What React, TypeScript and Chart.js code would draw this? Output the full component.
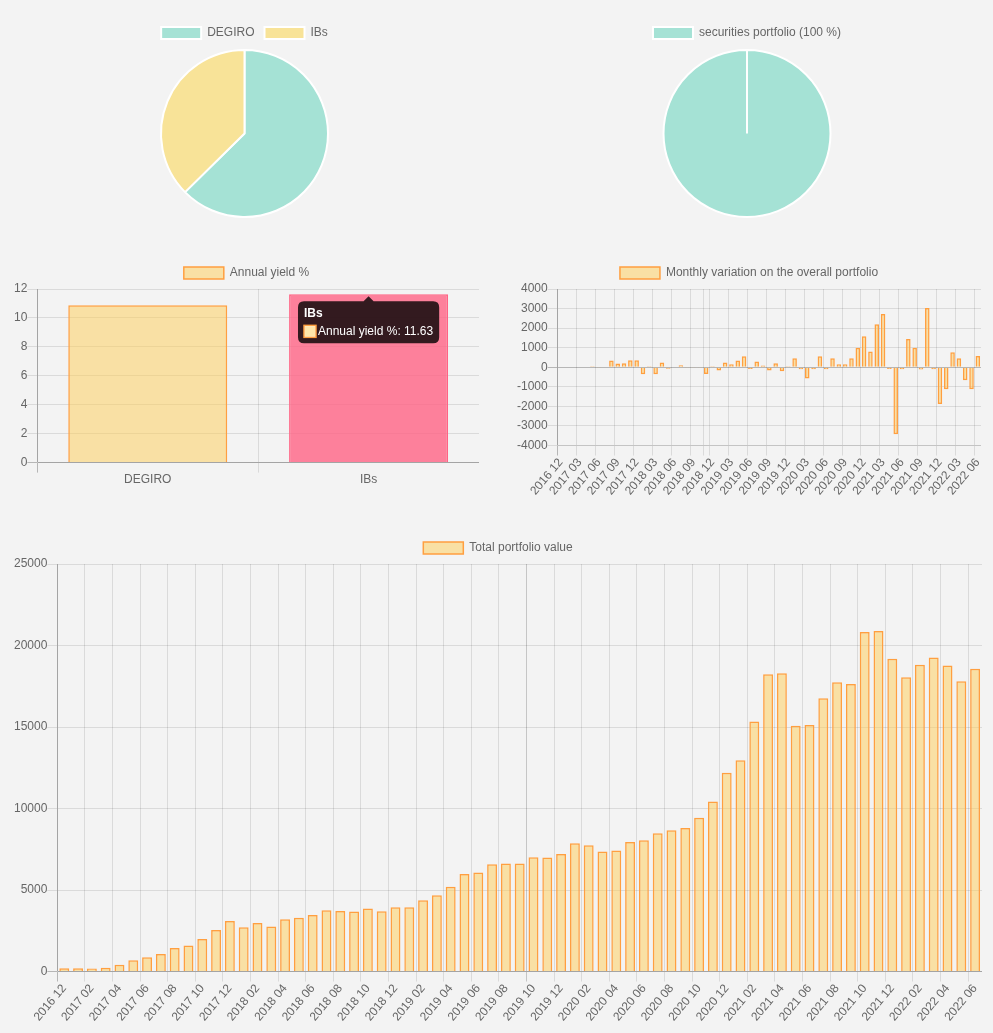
import React, { useEffect, useRef } from 'react';
import { Chart, registerables } from 'chart.js';

Chart.register(...registerables);

// ---------- data ----------
const brokerLabels = ['DEGIRO', 'IBs'];
const brokerValues = [11630, 6945];

const allocationLabels = ['securities portfolio (100 %)'];
const allocationValues = [100];

const yieldLabels = ['DEGIRO', 'IBs'];
const yieldValues = [10.87, 11.63];

const monthLabels = [
  '2016 12',
  '2017 01', '2017 02', '2017 03', '2017 04', '2017 05', '2017 06', '2017 07', '2017 08', '2017 09', '2017 10', '2017 11', '2017 12',
  '2018 01', '2018 02', '2018 03', '2018 04', '2018 05', '2018 06', '2018 07', '2018 08', '2018 09', '2018 10', '2018 11', '2018 12',
  '2019 01', '2019 02', '2019 03', '2019 04', '2019 05', '2019 06', '2019 07', '2019 08', '2019 09', '2019 10', '2019 11', '2019 12',
  '2020 01', '2020 02', '2020 03', '2020 04', '2020 05', '2020 06', '2020 07', '2020 08', '2020 09', '2020 10', '2020 11', '2020 12',
  '2021 01', '2021 02', '2021 03', '2021 04', '2021 05', '2021 06', '2021 07', '2021 08', '2021 09', '2021 10', '2021 11', '2021 12',
  '2022 01', '2022 02', '2022 03', '2022 04', '2022 05', '2022 06',
];

const monthlyVariation = [
  0,
  0, 0, 30, 25, 50, -10, 30, 350, 190, 200, 360, 360,
  -360, 50, -360, 240, -70, -20, 100, -10, -10, -10, -340, 50,
  -160, 240, 150, 340, 560, -90, 300, 90, -160, 200, -210, 50,
  460, -100, -580, -100, 560, -100, 460, 150, 150, 460, 1000, 1590,
  800, 2200, 2720, -90, -3420, -100, 1440, 1000, -120, 3030, -100, -1880,
  -1130, 770, 460, -670, -1130, 580,
];

const totalValue = [
  195,
  195, 185, 225, 410, 695, 875, 1080, 1450, 1590, 2000, 2550, 3100,
  2710, 2980, 2755, 3200, 3300, 3470, 3755, 3715, 3680, 3860, 3700, 3940,
  3940, 4370, 4675, 5200, 5975, 6080, 6585, 6625, 6625, 7010, 6990, 7215,
  7865, 7745, 7360, 7420, 7945, 8050, 8475, 8660, 8800, 9430, 10425, 12195,
  12965, 15345, 18230, 18295, 15080, 15120, 16770, 17745, 17640, 20835, 20895, 19185,
  18050, 18820, 19270, 18780, 17805, 18575,
];

// ---------- styles ----------
const FONT = "'Liberation Sans', Arial, sans-serif";
const TEAL = '#a5e2d5';
const YELLOW = '#f8e398';
const BAR_FILL = 'rgba(255, 206, 86, 0.5)';
const BAR_BORDER = 'rgba(255, 159, 64, 1)';
const HOVER_FILL = 'rgba(255, 99, 132, 0.8)';
const HOVER_BORDER = 'rgba(255, 99, 132, 1)';
const GRID = 'rgba(0,0,0,0.1)';
const ZERO = 'rgba(0,0,0,0.25)';
const DOUBLE = 'rgba(0,0,0,0.19)';
const NONE = 'rgba(0,0,0,0)';

Chart.defaults.font.family = FONT;
Chart.defaults.font.size = 12;
Chart.defaults.color = '#666';

function xGridColor(step: number, extraIndex: number, doubled: boolean, endVisible: boolean) {
  return (ctx: any) => {
    if (!ctx.tick) return endVisible ? GRID : NONE;
    const i = ctx.index;
    if (i === 0) return ZERO;
    if (i === extraIndex) return doubled ? DOUBLE : GRID;
    return i % step === 0 ? GRID : NONE;
  };
}

function yGridColor(ctx: any) {
  if (ctx.tick && ctx.tick.value === 0) return ZERO;
  return GRID;
}

const plainNumber = (v: any) => String(v);

const legendOpts = { position: 'top' as const, labels: { boxWidth: 40, padding: 10 } };

function monthScaleX(step: number, extraIndex: number, doubled: boolean) {
  return {
    grid: { color: xGridColor(step, extraIndex, doubled, false), tickLength: 10, offset: true },
    border: { color: GRID },
    afterFit: (scale: any) => {
      scale.paddingRight = 0;
    },
    ticks: {
      autoSkip: false,
      minRotation: 50,
      maxRotation: 50,
      padding: 0,
      callback: (_v: any, i: number) => (i % step === 0 ? monthLabels[i] : ''),
    },
  };
}

type Maker = (c: HTMLCanvasElement) => Chart;

function ChartBox({ left, top, width, height, make }: { left: number; top: number; width: number; height: number; make: Maker }) {
  const ref = useRef<HTMLCanvasElement>(null);
  useEffect(() => {
    const chart = make(ref.current!);
    return () => chart.destroy();
  }, []);
  return (
    <div style={{ position: 'absolute', left: left - 8, top: top - 8, width, height }}>
      <canvas ref={ref} width={width} height={height} style={{ width, height, display: 'block' }} />
    </div>
  );
}

const makeBrokerPie: Maker = (c) =>
  new Chart(c, {
    type: 'pie',
    data: {
      labels: brokerLabels,
      datasets: [{ data: brokerValues, backgroundColor: [TEAL, YELLOW], borderColor: '#fff', borderWidth: 2 }],
    },
    options: {
      responsive: false,
      animation: false,
      devicePixelRatio: 1,
      events: [],
      plugins: { legend: legendOpts, tooltip: { enabled: false } },
    },
  });

const makeAllocationPie: Maker = (c) =>
  new Chart(c, {
    type: 'pie',
    data: {
      labels: allocationLabels,
      datasets: [{ data: allocationValues, backgroundColor: [TEAL], borderColor: '#fff', borderWidth: 2 }],
    },
    options: {
      responsive: false,
      animation: false,
      devicePixelRatio: 1,
      events: [],
      plugins: { legend: legendOpts, tooltip: { enabled: false } },
    },
  });

const makeYield: Maker = (c) => {
  const chart = new Chart(c, {
    type: 'bar',
    data: {
      labels: yieldLabels,
      datasets: [
        {
          label: 'Annual yield %',
          data: yieldValues,
          backgroundColor: BAR_FILL,
          borderColor: BAR_BORDER,
          borderWidth: 1.5,
          hoverBackgroundColor: HOVER_FILL,
          hoverBorderColor: HOVER_BORDER,
        },
      ],
    },
    options: {
      responsive: false,
      animation: false,
      devicePixelRatio: 1,
      events: [],
      plugins: {
        legend: legendOpts,
        tooltip: {
          yAlign: 'top',
          xAlign: 'center',
          titleFont: { size: 12, weight: 'bold', lineHeight: 1 },
          bodyFont: { size: 12, lineHeight: 1 },
          padding: 6,
          caretSize: 5,
          caretPadding: 2,
          cornerRadius: 6,
          titleMarginBottom: 6,
          boxPadding: 0,
        },
      },
      scales: {
        x: {
          grid: { color: xGridColor(1, -1, false, true), tickLength: 10, offset: true },
          border: { color: GRID },
          ticks: { padding: 0 },
        },
        y: {
          min: 0,
          max: 12,
          grid: { color: yGridColor, tickLength: 10 },
          border: { color: GRID },
          ticks: { stepSize: 2, padding: 0, callback: plainNumber },
        },
      },
    },
  });
  const active = [{ datasetIndex: 0, index: 1 }];
  chart.setActiveElements(active);
  chart.tooltip!.setActiveElements(active, { x: 0, y: 0 });
  chart.update();
  return chart;
};

const makeMonthly: Maker = (c) =>
  new Chart(c, {
    type: 'bar',
    data: {
      labels: monthLabels,
      datasets: [
        {
          label: 'Monthly variation on the overall portfolio',
          data: monthlyVariation,
          backgroundColor: BAR_FILL,
          borderColor: BAR_BORDER,
          borderWidth: 1.5,
        },
      ],
    },
    options: {
      responsive: false,
      animation: false,
      devicePixelRatio: 1,
      events: [],
      plugins: { legend: legendOpts, tooltip: { enabled: false } },
      scales: {
        x: monthScaleX(3, 23, false) as any,
        y: {
          min: -4000,
          max: 4000,
          grid: { color: yGridColor, tickLength: 10 },
          border: { color: GRID },
          ticks: { stepSize: 1000, padding: 0, callback: plainNumber },
        },
      },
    },
  });

const makeTotal: Maker = (c) =>
  new Chart(c, {
    type: 'bar',
    data: {
      labels: monthLabels,
      datasets: [
        {
          label: 'Total portfolio value',
          data: totalValue,
          backgroundColor: BAR_FILL,
          borderColor: BAR_BORDER,
          borderWidth: 1.5,
        },
      ],
    },
    options: {
      responsive: false,
      animation: false,
      devicePixelRatio: 1,
      events: [],
      plugins: { legend: legendOpts, tooltip: { enabled: false } },
      scales: {
        x: monthScaleX(2, 34, true) as any,
        y: {
          min: 0,
          max: 25000,
          grid: { color: yGridColor, tickLength: 10 },
          border: { color: GRID },
          ticks: { stepSize: 5000, padding: 0, callback: plainNumber },
        },
      },
    },
  });

export default function App() {
  useEffect(() => {
    document.body.style.backgroundColor = '#f3f3f3';
  }, []);
  return (
    <div style={{ position: 'relative', width: 977, height: 1017 }}>
      <ChartBox left={8} top={17} width={473} height={201} make={makeBrokerPie} />
      <ChartBox left={512} top={17} width={470} height={201} make={makeAllocationPie} />
      <ChartBox left={14} top={257} width={465} height={230} make={makeYield} />
      <ChartBox left={517} top={257} width={464} height={241} make={makeMonthly} />
      <ChartBox left={14} top={532} width={968} height={492} make={makeTotal} />
    </div>
  );
}
